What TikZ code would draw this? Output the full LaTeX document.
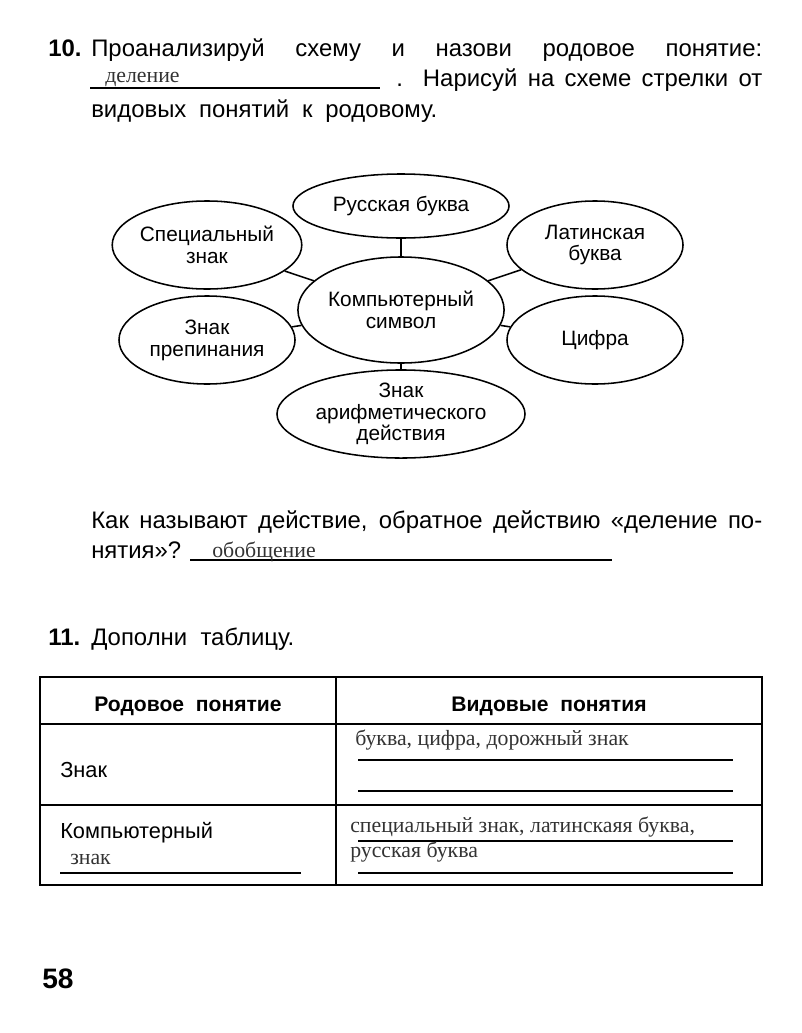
\documentclass[tikz,border=0pt]{standalone}
\usepackage{fontspec}
\setmainfont{Liberation Sans}
\newfontfamily\handfont{Liberation Serif}
\usetikzlibrary{shapes.geometric,positioning}

\begin{document}
\begin{tikzpicture}[
    x=0.025cm, y=-0.025cm,
    txt/.style={anchor=base west, inner sep=0pt, font=\fontsize{17}{20}\selectfont},
    num/.style={anchor=base west, inner sep=0pt, font=\fontsize{17}{20}\selectfont\bfseries},
    oval/.style={ellipse, draw, line width=1.1pt, inner sep=0pt, align=center, font=\fontsize{14.8}{15.5}\selectfont},
    hand/.style={anchor=base west, inner sep=0pt, font=\fontsize{15.5}{17}\selectfont\handfont, text=black!80},
    link/.style={line width=1.1pt},
    rule/.style={line width=0.8pt},
    cell/.style={anchor=base west, inner sep=0pt, font=\fontsize{15.5}{18}\selectfont},
    head/.style={anchor=base, inner sep=0pt, font=\fontsize{15}{18}\selectfont\bfseries}
]
\useasboundingbox (0,0) rectangle (802,1033);

% Task 10 text
\node[num] (n10) at (48,56) {10.};
\node[txt] (l1) at (91,56) {\makebox[671\dimexpr 0.025cm\relax][s]{Проанализируй схему и назови родовое понятие:}};
\node[hand] (ans1) at (105,82) {деление};
\draw[rule] (90,88) -- (380,88);
\node[txt] (l2) at (396,86) {\makebox[366\dimexpr 0.025cm\relax][s]{. Нарисуй на схеме стрелки от}};
\node[txt] (l3) at (91,117) {\makebox[346\dimexpr 0.025cm\relax][s]{видовых понятий к родовому.}};

% Scheme
\node[oval, minimum width=5.4cm, minimum height=1.6cm] (rus) at (401,206) {Русская буква};
\node[oval, minimum width=4.45cm, minimum height=2.2cm] (spec) at (207,245) {Специальный\\знак};
\node[oval, minimum width=4.4cm, minimum height=2.2cm] (lat) at (595,245) {Латинская\\буква};
\node[oval, minimum width=4.55cm, minimum height=2.65cm] (comp) at (401,310) {Компьютерный\\символ};
\node[oval, minimum width=4.4cm, minimum height=2.2cm] (punct) at (207,340) {Знак\\препинания};
\node[oval, minimum width=4.4cm, minimum height=2.2cm] (digit) at (595,340) {Цифра};
\node[oval, minimum width=6.2cm, minimum height=1.95cm] (arith) at (401,414) {Знак\\арифметического\\действия};

\draw[link] (rus) -- (comp);
\draw[link] (spec) -- (comp);
\draw[link] (lat) -- (comp);
\draw[link] (punct) -- (comp);
\draw[link] (digit) -- (comp);
\draw[link] (arith) -- (comp);

% Question
\node[txt] (q1) at (91,528) {\makebox[671\dimexpr 0.025cm\relax][s]{Как называют действие, обратное действию «деление по-}};
\node[txt] (q2) at (91,558) {нятия»?};
\draw[rule] (190,560) -- (612,560);
\node[hand] (ans2) at (212,557) {обобщение};

% Task 11
\node[num] (n11) at (48,645) {11.};
\node[txt] (t11) at (91,645) {Дополни\ \ таблицу.};

% Table
\draw[line width=1.2pt] (40,677) rectangle (762,885);
\draw[line width=1pt] (40,724) -- (762,724);
\draw[line width=1.3pt] (40,805) -- (762,805);
\draw[line width=1pt] (336,677) -- (336,885);
\node[head] (h1) at (188,711) {Родовое\ \ понятие};
\node[head] (h2) at (549,711) {Видовые\ \ понятия};

\node[cell] (r1) at (60,777) {Знак};
\node[hand] (a1) at (355,745) {буква, цифра, дорожный знак};
\draw[rule] (358,760) -- (733,760);
\draw[rule] (358,791) -- (733,791);

\node[cell] (r2) at (60,838) {Компьютерный};
\node[hand] (a2) at (70,864) {знак};
\draw[rule] (60,873) -- (301,873);
\node[hand] (a3) at (350,832) {специальный знак, латинскаяя буква,};
\draw[rule] (358,841) -- (733,841);
\node[hand] (a4) at (350,857) {русская буква};
\draw[rule] (358,873) -- (733,873);

% Page number
\node[anchor=base west, inner sep=0pt, font=\fontsize{20}{24}\selectfont\bfseries] (page) at (42,988) {58};

\end{tikzpicture}
\end{document}
